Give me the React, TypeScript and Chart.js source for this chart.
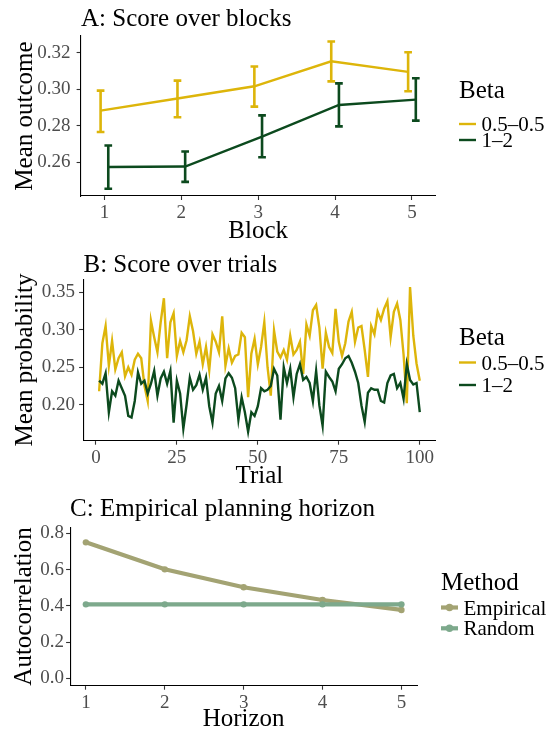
import React, { useEffect, useRef } from "react";
import { Chart, registerables } from "chart.js";

Chart.register(...registerables);

const FONT = "'Liberation Serif', 'Times New Roman', Times, serif";
const YELLOW = "#DDB50A";
const DKGREEN = "#0C4A1E";
const EMP_COLOR = "#A3A373";
const RND_COLOR = "#7DA98C";

// ---------- Panel A: score over blocks ----------
const blocks = [1, 2, 3, 4, 5];
const blockTicks = [1, 2, 3, 4, 5];
const outcomeTicks = [0.26, 0.28, 0.3, 0.32];
const beta05Mean = [0.2883, 0.2949, 0.3016, 0.3153, 0.3095];
const beta05Low = [0.2766, 0.2847, 0.2905, 0.3043, 0.2989];
const beta05High = [0.2992, 0.3047, 0.3124, 0.3261, 0.3202];
const beta12Mean = [0.2575, 0.2577, 0.2741, 0.2914, 0.2943];
const beta12Low = [0.2456, 0.2493, 0.2628, 0.2797, 0.2828];
const beta12High = [0.2692, 0.2659, 0.2857, 0.3032, 0.306];

// ---------- Panel B: score over trials ----------
const trials = [
  1, 2, 3, 4, 5, 6, 7, 8, 9, 10, 11, 12, 13, 14, 15, 16, 17, 18, 19, 20,
  21, 22, 23, 24, 25, 26, 27, 28, 29, 30, 31, 32, 33, 34, 35, 36, 37, 38, 39, 40,
  41, 42, 43, 44, 45, 46, 47, 48, 49, 50, 51, 52, 53, 54, 55, 56, 57, 58, 59, 60,
  61, 62, 63, 64, 65, 66, 67, 68, 69, 70, 71, 72, 73, 74, 75, 76, 77, 78, 79, 80,
  81, 82, 83, 84, 85, 86, 87, 88, 89, 90, 91, 92, 93, 94, 95, 96, 97, 98, 99, 100,
];
const trialTicks = [0, 25, 50, 75, 100];
const probTicks = [0.2, 0.25, 0.3, 0.35];
const beta05Trial = [
  0.218, 0.282, 0.305, 0.252, 0.285, 0.247, 0.262, 0.27, 0.238, 0.25,
  0.24, 0.26, 0.268, 0.262, 0.225, 0.205, 0.312, 0.29, 0.27, 0.31,
  0.342, 0.262, 0.31, 0.322, 0.265, 0.285, 0.27, 0.286, 0.318, 0.298,
  0.268, 0.284, 0.254, 0.277, 0.246, 0.294, 0.284, 0.27, 0.318, 0.252,
  0.275, 0.256, 0.265, 0.267, 0.296, 0.29, 0.21, 0.268, 0.288, 0.254,
  0.277, 0.31, 0.25, 0.212, 0.299, 0.271, 0.263, 0.273, 0.26, 0.292,
  0.267, 0.273, 0.284, 0.241, 0.307, 0.292, 0.326, 0.333, 0.303, 0.248,
  0.296, 0.277, 0.269, 0.328, 0.284, 0.265, 0.282, 0.311, 0.324, 0.284,
  0.303, 0.305, 0.273, 0.237, 0.305, 0.294, 0.324, 0.313, 0.328, 0.338,
  0.29, 0.324, 0.335, 0.313, 0.267, 0.202, 0.357, 0.292, 0.255, 0.232,
];
const beta12Trial = [
  0.232, 0.228, 0.242, 0.19, 0.218, 0.212, 0.232, 0.222, 0.212, 0.185,
  0.183, 0.205, 0.243, 0.228, 0.232, 0.215, 0.228, 0.245, 0.212, 0.235,
  0.244, 0.228, 0.245, 0.176, 0.232, 0.215, 0.168, 0.2, 0.236, 0.22,
  0.226, 0.24, 0.22, 0.236, 0.198, 0.176, 0.215, 0.225, 0.205, 0.235,
  0.242, 0.236, 0.222, 0.18, 0.21, 0.19, 0.164, 0.19, 0.185, 0.198,
  0.222, 0.218, 0.22, 0.225, 0.248, 0.239, 0.18, 0.25, 0.229, 0.248,
  0.21, 0.241, 0.254, 0.233, 0.237, 0.229, 0.205, 0.245, 0.199, 0.172,
  0.244, 0.237, 0.231, 0.218, 0.248, 0.254, 0.262, 0.265, 0.256, 0.244,
  0.229, 0.199, 0.177, 0.216, 0.222, 0.22, 0.22, 0.205, 0.203, 0.229,
  0.239, 0.241, 0.222, 0.229, 0.208, 0.254, 0.233, 0.227, 0.229, 0.19,
];

// ---------- Panel C: empirical planning horizon ----------
const horizons = [1, 2, 3, 4, 5];
const horizonTicks = [1, 2, 3, 4, 5];
const autocorTicks = [0, 0.2, 0.4, 0.6, 0.8];
const empiricalAC = [0.75, 0.601, 0.502, 0.432, 0.377];
const randomAC = [0.408, 0.408, 0.408, 0.408, 0.408];

const DODGE = 0.05;
const CANVAS_W = 547;
const CANVAS_H = 760;

const errorBars = {
  id: "errorBars",
  afterDatasetsDraw(chart: any) {
    const { ctx } = chart;
    const xs = chart.scales.x;
    const ys = chart.scales.y;
    chart.data.datasets.forEach((ds: any) => {
      if (!ds.errLow) return;
      ctx.save();
      ctx.strokeStyle = ds.borderColor;
      ctx.lineWidth = ds.errWidth;
      ctx.lineCap = "butt";
      ds.data.forEach((p: any, i: number) => {
        const px = xs.getPixelForValue(p.x);
        const x0 = xs.getPixelForValue(p.x - ds.capHalf);
        const x1 = xs.getPixelForValue(p.x + ds.capHalf);
        const yl = ys.getPixelForValue(ds.errLow[i]);
        const yh = ys.getPixelForValue(ds.errHigh[i]);
        ctx.beginPath();
        ctx.moveTo(px, yl);
        ctx.lineTo(px, yh);
        ctx.moveTo(x0, yl);
        ctx.lineTo(x1, yl);
        ctx.moveTo(x0, yh);
        ctx.lineTo(x1, yh);
        ctx.stroke();
      });
      ctx.restore();
    });
  },
};

const panelDecor = {
  id: "panelDecor",
  afterDraw(chart: any, _args: any, o: any) {
    const { ctx } = chart;
    ctx.save();
    ctx.fillStyle = "#000";
    ctx.textAlign = "left";
    ctx.textBaseline = "alphabetic";
    ctx.font = `25px ${FONT}`;
    ctx.fillText(o.title, o.titleX, o.titleY);
    ctx.font = `25px ${FONT}`;
    ctx.fillText(o.legendTitle, o.legendX, o.legendTitleY);
    ctx.font = `21px ${FONT}`;
    o.order.forEach((di: number, k: number) => {
      const ds = chart.data.datasets[di];
      const cy = o.itemY[k];
      ctx.strokeStyle = ds.borderColor;
      ctx.lineWidth = ds.borderWidth;
      ctx.beginPath();
      ctx.moveTo(o.legendX, cy);
      ctx.lineTo(o.legendX + o.keyW, cy);
      ctx.stroke();
      if (o.keyPoint) {
        ctx.fillStyle = ds.borderColor;
        ctx.beginPath();
        ctx.arc(o.legendX + o.keyW / 2, cy, ds.pointRadius + 0.5, 0, Math.PI * 2);
        ctx.fill();
      }
      ctx.fillStyle = "#000";
      ctx.fillText(ds.label, o.legendX + o.textOff, cy + 7);
    });
    ctx.restore();
  },
};

function axis(opts: {
  min: number;
  max: number;
  ticks: number[];
  fmt: (v: number) => string;
  title: string;
  isX: boolean;
  size: number;
  tickPad: number;
  titlePad: number;
}) {
  return {
    type: "linear",
    min: opts.min,
    max: opts.max,
    afterBuildTicks: (s: any) => {
      s.ticks = opts.ticks.map((v) => ({ value: v }));
    },
    afterFit: (s: any) => {
      if (opts.isX) s.height = opts.size;
      else s.width = opts.size;
    },
    ticks: {
      autoSkip: false,
      maxRotation: 0,
      padding: opts.tickPad,
      color: "#4D4D4D",
      font: { family: FONT, size: 19 },
      callback: (v: any) => opts.fmt(Number(v)),
    },
    grid: {
      display: true,
      drawOnChartArea: false,
      drawTicks: true,
      tickLength: 4,
      tickColor: "#333333",
      tickWidth: 1.1,
    },
    border: { display: true, color: "#000", width: 1.1 },
    title: {
      display: true,
      text: opts.title,
      color: "#000",
      font: { family: FONT, size: 25 },
      padding: opts.isX ? { top: 0, bottom: 0 } : { top: opts.titlePad, bottom: 0 },
    },
  };
}

function baseOptions(area: { L: number; R: number; T: number; B: number; H: number }, scales: any, decor: any) {
  return {
    responsive: false,
    animation: false,
    devicePixelRatio: 1,
    events: [],
    layout: {
      padding: {
        left: 0,
        top: area.T,
        right: CANVAS_W - area.R,
        bottom: CANVAS_H - area.B - area.H,
      },
    },
    scales,
    plugins: {
      legend: { display: false },
      title: { display: false },
      tooltip: { enabled: false },
      panelDecor: decor,
    },
  };
}

function configA(): any {
  const area = { L: 80.6, R: 435.8, T: 36, B: 196, H: 50 };
  return {
    type: "line",
    data: {
      datasets: [
        {
          label: "0.5\u20130.5",
          data: blocks.map((b, i) => ({ x: b - DODGE, y: beta05Mean[i] })),
          borderColor: YELLOW,
          borderWidth: 2.4,
          pointRadius: 0,
          errLow: beta05Low,
          errHigh: beta05High,
          errWidth: 2.6,
          capHalf: 0.05,
          order: 1,
        },
        {
          label: "1\u20132",
          data: blocks.map((b, i) => ({ x: b + DODGE, y: beta12Mean[i] })),
          borderColor: DKGREEN,
          borderWidth: 2.4,
          pointRadius: 0,
          errLow: beta12Low,
          errHigh: beta12High,
          errWidth: 2.6,
          capHalf: 0.05,
          order: 0,
        },
      ],
    },
    options: baseOptions(
      area,
      {
        x: axis({ min: 0.69, max: 5.31, ticks: blockTicks, fmt: (v) => String(v), title: "Block", isX: true, size: area.H, tickPad: 2, titlePad: 0 }),
        y: axis({ min: 0.2416, max: 0.3291, ticks: outcomeTicks, fmt: (v) => v.toFixed(2), title: "Mean outcome", isX: false, size: area.L, tickPad: 6, titlePad: 10 }),
      },
      {
        title: "A: Score over blocks",
        titleX: 81,
        titleY: 26,
        legendTitle: "Beta",
        legendX: 459,
        legendTitleY: 97.5,
        order: [0, 1],
        itemY: [124, 140],
        keyW: 17,
        textOff: 22.5,
        keyPoint: false,
      }
    ),
    plugins: [errorBars, panelDecor],
  };
}

function configB(): any {
  const area = { L: 83.1, R: 435.8, T: 279.3, B: 440.7, H: 50.3 };
  return {
    type: "line",
    data: {
      datasets: [
        {
          label: "0.5\u20130.5",
          data: trials.map((t, i) => ({ x: t, y: beta05Trial[i] })),
          borderColor: YELLOW,
          borderWidth: 2.4,
          pointRadius: 0,
          order: 1,
        },
        {
          label: "1\u20132",
          data: trials.map((t, i) => ({ x: t, y: beta12Trial[i] })),
          borderColor: DKGREEN,
          borderWidth: 2.4,
          pointRadius: 0,
          order: 0,
        },
      ],
    },
    options: baseOptions(
      area,
      {
        x: axis({ min: -3.95, max: 104.95, ticks: trialTicks, fmt: (v) => String(v), title: "Trial", isX: true, size: area.H, tickPad: 2, titlePad: 0 }),
        y: axis({ min: 0.152, max: 0.3673, ticks: probTicks, fmt: (v) => v.toFixed(2), title: "Mean probability", isX: false, size: area.L, tickPad: 4, titlePad: 10 }),
      },
      {
        title: "B: Score over trials",
        titleX: 83.5,
        titleY: 271.7,
        legendTitle: "Beta",
        legendX: 459,
        legendTitleY: 345,
        order: [0, 1],
        itemY: [362.5, 385],
        keyW: 17,
        textOff: 22.5,
        keyPoint: false,
      }
    ),
    plugins: [panelDecor],
  };
}

function configC(): any {
  const area = { L: 70.1, R: 417.2, T: 527.3, B: 685.7, H: 48.6 };
  return {
    type: "line",
    data: {
      datasets: [
        {
          label: "Empirical",
          data: horizons.map((h, i) => ({ x: h, y: empiricalAC[i] })),
          borderColor: EMP_COLOR,
          backgroundColor: EMP_COLOR,
          pointBackgroundColor: EMP_COLOR,
          pointBorderColor: EMP_COLOR,
          borderWidth: 4.2,
          pointRadius: 3.2,
          pointBorderWidth: 0,
          order: 1,
        },
        {
          label: "Random",
          data: horizons.map((h, i) => ({ x: h, y: randomAC[i] })),
          borderColor: RND_COLOR,
          backgroundColor: RND_COLOR,
          pointBackgroundColor: RND_COLOR,
          pointBorderColor: RND_COLOR,
          borderWidth: 4.2,
          pointRadius: 3.2,
          pointBorderWidth: 0,
          order: 0,
        },
      ],
    },
    options: baseOptions(
      area,
      {
        x: axis({ min: 0.8, max: 5.2, ticks: horizonTicks, fmt: (v) => String(v), title: "Horizon", isX: true, size: area.H, tickPad: 2, titlePad: 0 }),
        y: axis({ min: -0.041, max: 0.833, ticks: autocorTicks, fmt: (v) => v.toFixed(1), title: "Autocorrelation", isX: false, size: area.L, tickPad: 2, titlePad: 9.5 }),
      },
      {
        title: "C: Empirical planning horizon",
        titleX: 70.1,
        titleY: 516,
        legendTitle: "Method",
        legendX: 441,
        legendTitleY: 590,
        order: [0, 1],
        itemY: [607.5, 628.3],
        keyW: 17,
        textOff: 22.5,
        keyPoint: true,
      }
    ),
    plugins: [panelDecor],
  };
}

export default function App() {
  const refA = useRef<HTMLCanvasElement>(null);
  const refB = useRef<HTMLCanvasElement>(null);
  const refC = useRef<HTMLCanvasElement>(null);

  useEffect(() => {
    const charts: Chart[] = [];
    if (refA.current) charts.push(new Chart(refA.current, configA()));
    if (refB.current) charts.push(new Chart(refB.current, configB()));
    if (refC.current) charts.push(new Chart(refC.current, configC()));
    return () => charts.forEach((c) => c.destroy());
  }, []);

  const canvasStyle: React.CSSProperties = {
    position: "absolute",
    left: 0,
    top: 0,
    width: CANVAS_W,
    height: CANVAS_H,
  };

  return (
    <div
      style={{
        position: "fixed",
        left: 0,
        top: 0,
        width: 547,
        height: 731,
        overflow: "hidden",
        background: "#ffffff",
      }}
    >
      <canvas ref={refA} width={CANVAS_W} height={CANVAS_H} style={canvasStyle} />
      <canvas ref={refB} width={CANVAS_W} height={CANVAS_H} style={canvasStyle} />
      <canvas ref={refC} width={CANVAS_W} height={CANVAS_H} style={canvasStyle} />
    </div>
  );
}
